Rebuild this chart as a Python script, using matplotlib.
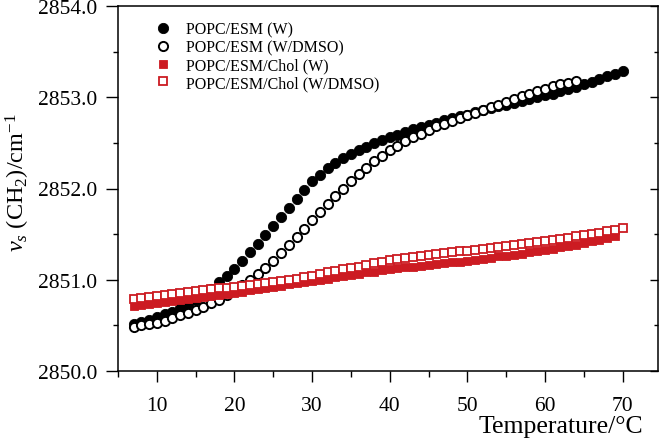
import matplotlib
matplotlib.use("Agg")
import matplotlib.pyplot as plt
from matplotlib.ticker import MultipleLocator, FormatStrFormatter

plt.rcParams['font.family'] = ['Liberation Serif', 'DejaVu Serif']
plt.rcParams['mathtext.fontset'] = 'custom'
plt.rcParams['mathtext.rm'] = 'Liberation Serif'
plt.rcParams['mathtext.it'] = 'Liberation Serif:italic'

# ---------------- data ----------------
temp_w = list(range(7, 71))
popc_esm_w = [2850.52, 2850.54, 2850.56, 2850.59, 2850.62, 2850.65, 2850.69, 2850.73,
              2850.78, 2850.84, 2850.90, 2850.97, 2851.04, 2851.12, 2851.21, 2851.30,
              2851.39, 2851.49, 2851.59, 2851.69, 2851.79, 2851.89, 2851.98, 2852.08,
              2852.15, 2852.22, 2852.28, 2852.33, 2852.38, 2852.42, 2852.46, 2852.50,
              2852.53, 2852.56, 2852.59, 2852.62, 2852.65, 2852.67, 2852.70, 2852.72,
              2852.75, 2852.77, 2852.79, 2852.81, 2852.84, 2852.86, 2852.88, 2852.90,
              2852.92, 2852.94, 2852.96, 2852.98, 2853.00, 2853.02, 2853.04, 2853.07,
              2853.09, 2853.11, 2853.14, 2853.17, 2853.20, 2853.23, 2853.26, 2853.29]

temp_wd = list(range(7, 65))
popc_esm_wd = [2850.48, 2850.50, 2850.51, 2850.53, 2850.55, 2850.58, 2850.61, 2850.64,
               2850.67, 2850.70, 2850.74, 2850.78, 2850.83, 2850.88, 2850.94, 2851.00,
               2851.06, 2851.13, 2851.21, 2851.29, 2851.38, 2851.47, 2851.56, 2851.65,
               2851.74, 2851.83, 2851.92, 2852.00, 2852.08, 2852.16, 2852.23, 2852.30,
               2852.36, 2852.42, 2852.47, 2852.52, 2852.56, 2852.60, 2852.64, 2852.68,
               2852.71, 2852.74, 2852.77, 2852.80, 2852.83, 2852.86, 2852.89, 2852.92,
               2852.95, 2852.98, 2853.01, 2853.04, 2853.07, 2853.09, 2853.12, 2853.14,
               2853.16, 2853.18]

temp_chol_w = list(range(7, 70))
chol_w = [2850.710, 2850.720, 2850.730, 2850.745, 2850.755, 2850.765, 2850.775, 2850.790,
          2850.800, 2850.810, 2850.825, 2850.835, 2850.845, 2850.860, 2850.870, 2850.885,
          2850.895, 2850.910, 2850.920, 2850.935, 2850.950, 2850.960, 2850.975, 2850.985,
          2850.995, 2851.010, 2851.025, 2851.040, 2851.050, 2851.065, 2851.080, 2851.090,
          2851.105, 2851.115, 2851.125, 2851.135, 2851.145, 2851.155, 2851.165, 2851.175,
          2851.185, 2851.195, 2851.200, 2851.210, 2851.220, 2851.230, 2851.240, 2851.255,
          2851.265, 2851.275, 2851.285, 2851.300, 2851.310, 2851.325, 2851.340, 2851.355,
          2851.370, 2851.385, 2851.400, 2851.420, 2851.440, 2851.460, 2851.480]

temp_chol_wd = list(range(7, 71))
chol_wd = [2850.790, 2850.800, 2850.810, 2850.820, 2850.835, 2850.845, 2850.855, 2850.865,
           2850.875, 2850.885, 2850.895, 2850.905, 2850.915, 2850.925, 2850.935, 2850.945,
           2850.955, 2850.965, 2850.975, 2850.985, 2850.995, 2851.010, 2851.025, 2851.045,
           2851.065, 2851.080, 2851.100, 2851.115, 2851.130, 2851.145, 2851.160, 2851.180,
           2851.200, 2851.215, 2851.225, 2851.240, 2851.250, 2851.260, 2851.270, 2851.280,
           2851.290, 2851.300, 2851.310, 2851.320, 2851.330, 2851.340, 2851.350, 2851.360,
           2851.370, 2851.380, 2851.390, 2851.405, 2851.415, 2851.425, 2851.435, 2851.450,
           2851.460, 2851.475, 2851.490, 2851.500, 2851.515, 2851.530, 2851.545, 2851.565]

labels = ["POPC/ESM (W)", "POPC/ESM (W/DMSO)", "POPC/ESM/Chol (W)", "POPC/ESM/Chol (W/DMSO)"]
red = '#cc1b22'

# ---------------- figure ----------------
fig = plt.figure(figsize=(6.62, 4.39), dpi=100)
ax = fig.add_axes([118/662, 1-372/439, 540.3/662, 365/439])

ax.plot(temp_w, popc_esm_w, 'o', ms=7.4, color='black', mec='black', mew=0.6, label=labels[0])
ax.plot(temp_wd, popc_esm_wd, 'o', ms=6.6, mfc='white', mec='black', mew=1.4, label=labels[1])
ax.plot(temp_chol_w, chol_w, 's', ms=6.3, color=red, mec=red, mew=0.6, label=labels[2])
ax.plot(temp_chol_wd, chol_wd, 's', ms=5.7, mfc='white', mec=red, mew=1.3, label=labels[3])

ax.set_xlim(5, 74.6)
ax.set_ylim(2850.0, 2854.0)
ax.xaxis.set_major_locator(MultipleLocator(10))
ax.xaxis.set_minor_locator(MultipleLocator(5))
ax.yaxis.set_major_locator(MultipleLocator(1.0))
ax.yaxis.set_minor_locator(MultipleLocator(0.5))
ax.yaxis.set_major_formatter(FormatStrFormatter('%.1f'))

for s in ax.spines.values():
    s.set_linewidth(1.1)

ax.tick_params(axis='y', which='major', direction='out', length=8.6, width=1.0,
               labelsize=15.5, pad=6.5, right=False)
ax.tick_params(axis='y', which='minor', direction='out', length=3.6, width=1.0, right=False)
ax.tick_params(axis='x', which='major', direction='out', length=8.0, width=1.0,
               labelsize=15.5, pad=10, top=False)
ax.tick_params(axis='x', which='minor', direction='out', length=4.3, width=1.0, top=False)

# right-side inward ticks
ax2 = ax.twinx()
ax2.set_ylim(ax.get_ylim())
ax2.yaxis.set_major_locator(MultipleLocator(1.0))
ax2.yaxis.set_minor_locator(MultipleLocator(0.5))
ax2.tick_params(axis='y', which='major', direction='in', length=6, width=1.0, labelright=False)
ax2.tick_params(axis='y', which='minor', direction='in', length=3, width=1.0)
for s in ax2.spines.values():
    s.set_visible(False)

leg = ax.legend(loc='upper left', bbox_to_anchor=(0.068, 0.958), frameon=False,
                fontsize=11.5, handlelength=1.0, handletextpad=0.95, labelspacing=0.12,
                borderpad=0, borderaxespad=0, numpoints=1)

fig.text(643/662, 1-433/439, 'Temperature/°C', fontsize=18.5, ha='right', va='baseline')
fig.text(25/662, 1-252/439, r'$v_s$ (CH$_2$)/cm$^{-1}$', fontsize=17.5, rotation=90,
         rotation_mode='anchor', ha='left', va='baseline')

fig.savefig('out.png', dpi=100)
